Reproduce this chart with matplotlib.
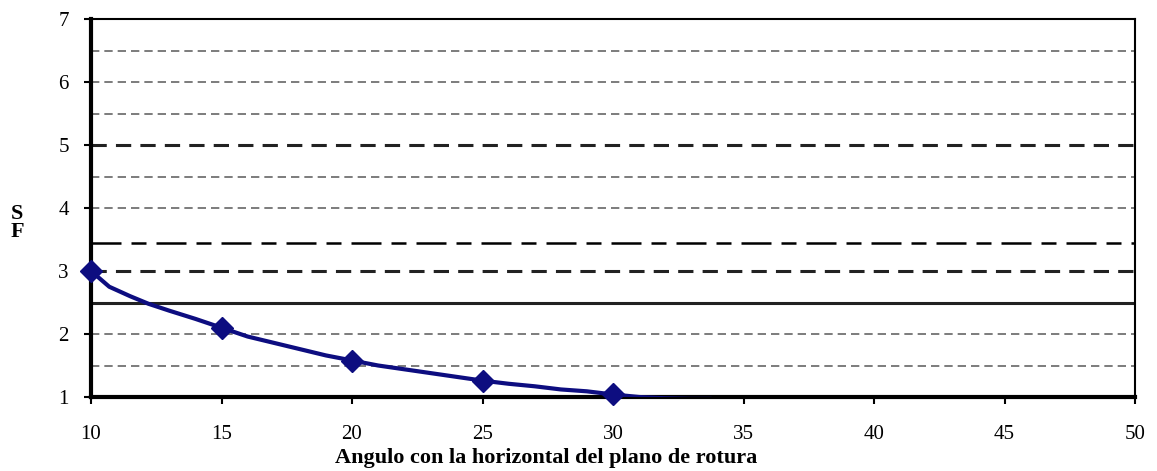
import matplotlib.pyplot as plt

plt.rcParams['font.family'] = ['Liberation Serif', 'DejaVu Serif']

# curve (smoothed line) and marked points
angle_line = [10, 10.7, 11.5, 12.2, 13, 14, 15, 16, 17, 18, 19, 20, 21, 22, 23, 24,
              25, 26, 27, 28, 29, 30, 31, 32, 33, 33.7]
sf_line = [3.0, 2.75, 2.6, 2.48, 2.37, 2.24, 2.1, 1.96, 1.86, 1.76, 1.66, 1.58, 1.5,
           1.44, 1.38, 1.32, 1.26, 1.21, 1.17, 1.12, 1.09, 1.04, 1.0, 0.98, 0.97, 0.97]
angle_pts = [10, 15, 20, 25, 30]
sf_pts = [3.0, 2.1, 1.57, 1.26, 1.05]

x_ticks = [10, 15, 20, 25, 30, 35, 40, 45, 50]
y_ticks = [1, 2, 3, 4, 5, 6, 7]
thin_grid = [1.5, 2, 4, 4.5, 5.5, 6, 6.5]
bold_grid = [3, 5]
long_dash_grid = 3.45
solid_grid = 2.5

fig = plt.figure(figsize=(11.57, 4.71), dpi=100)
ax = fig.add_axes([91 / 1157, 1 - 397 / 471, (1135 - 91) / 1157, (397 - 19) / 471])

for g in thin_grid:
    ax.axhline(g, color='#666666', lw=1.2, ls=(0, (5, 3)), zorder=1)
for g in bold_grid:
    ax.axhline(g, color='#222222', lw=2.2, ls=(0, (5, 3)), zorder=1)
ax.axhline(long_dash_grid, color='black', lw=1.8, ls=(0, (12, 4, 6, 4)), zorder=1)
ax.axhline(solid_grid, color='#222222', lw=2.2, zorder=1)

ax.plot(angle_line, sf_line, color='#0d0d80', lw=3, zorder=3, clip_on=True)
ax.plot(angle_pts, sf_pts, ls='none', marker='D', ms=11, color='#0d0d80', zorder=4,
        clip_on=False)

ax.set_xlim(10, 50)
ax.set_ylim(1, 7)
ax.set_xticks(x_ticks)
ax.set_yticks(y_ticks)
ax.tick_params(labelsize=15, length=5, width=1.5, direction='out')
ax.tick_params(axis='x', pad=15)
ax.tick_params(axis='y', pad=11)

for side in ['left', 'bottom']:
    ax.spines[side].set_linewidth(3)
for side in ['top', 'right']:
    ax.spines[side].set_linewidth(1.5)

ax.set_xlabel('Angulo con la horizontal del plano de rotura', fontsize=16,
              fontweight='bold', labelpad=4)
ax.xaxis.set_label_coords((546 - 91) / 1044, -0.135)
ax.xaxis.label.set_va('center')
ax.xaxis.set_label_coords((546 - 91) / 1044, -(458 - 397) / 378)
fig.text(17 / 1157, 1 - 214 / 471, 'S', fontsize=16, fontweight='bold',
         ha='center', va='center')
fig.text(17 / 1157, 1 - 232 / 471, 'F', fontsize=16, fontweight='bold',
         ha='center', va='center')

fig.savefig('out.png', dpi=100)
